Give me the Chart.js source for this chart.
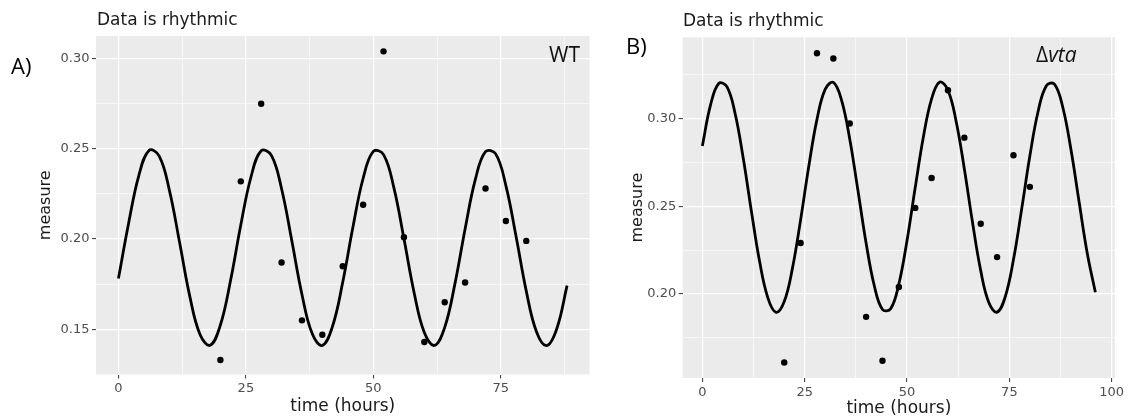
<!DOCTYPE html>
<html>
<head>
<meta charset="utf-8">
<script src="https://cdn.jsdelivr.net/npm/chart.js@4"></script>
<style>
  html, body { margin: 0; padding: 0; background: #fff; }
  #wrap { position: relative; width: 1128px; height: 419px; overflow: hidden; font-family: "DejaVu Sans", sans-serif; }
  canvas { position: absolute; top: 0; }
  .lbl { position: absolute; white-space: nowrap; }
  .title { font-size: 17px; line-height: 20px; color: #1a1a1a; }
  .panel { font-family: "Open Sans", sans-serif; font-size: 22px; line-height: 26px; color: #000; }
  .tag { font-family: "Open Sans", sans-serif; font-size: 21px; line-height: 24px; color: #111; }
</style>
</head>
<body>
<div id="wrap">
  <canvas id="chartA" width="600" height="419" style="left:0px"></canvas>
  <canvas id="chartB" width="528" height="419" style="left:600px"></canvas>

  <div class="lbl title" style="left:97px;top:9px">Data is rhythmic</div>
  <div class="lbl title" style="left:683px;top:10px">Data is rhythmic</div>
  <div class="lbl panel" style="left:11px;top:52px">A)</div>
  <div class="lbl panel" style="left:626px;top:32px">B)</div>
  <div class="lbl tag" style="left:549px;top:42px">WT</div>
  <div class="lbl tag" style="left:1036px;top:42px">Δ<i>vta</i></div>
</div>

<script>
// ---- A) WT ----
const hoursA = [20, 24, 28, 32, 36, 40, 44, 48, 52, 56, 60, 64, 68, 72, 76, 80];
const measureA = [0.133, 0.232, 0.275, 0.187, 0.155, 0.147, 0.185, 0.219, 0.304, 0.201, 0.143, 0.165, 0.176, 0.228, 0.210, 0.199];
// fitted curve, every 2 hours
const fitHoursA = [0, 2, 4, 6, 8, 10, 12, 14, 16, 18, 20, 22, 24, 26, 28, 30, 32, 34, 36, 38, 40, 42, 44,
  46, 48, 50, 52, 54, 56, 58, 60, 62, 64, 66, 68, 70, 72, 74, 76, 78, 80, 82, 84, 86, 88];
const fitA = [0.1782, 0.2088, 0.2352, 0.2491, 0.2460, 0.2270, 0.1981, 0.1683, 0.1472, 0.1412, 0.1524, 0.1772,
  0.2078, 0.2344, 0.2489, 0.2464, 0.2279, 0.1992, 0.1693, 0.1477, 0.1411, 0.1517, 0.1762, 0.2067,
  0.2337, 0.2486, 0.2468, 0.2288, 0.2003, 0.1703, 0.1482, 0.1411, 0.1511, 0.1752, 0.2056, 0.2329,
  0.2484, 0.2472, 0.2296, 0.2014, 0.1712, 0.1487, 0.1410, 0.1505, 0.1742];
const xTicksA = [0, 25, 50, 75];
const xMinorA = [12.5, 37.5, 62.5, 87.5];
const yTicksA = [0.15, 0.20, 0.25, 0.30];
const yMinorA = [0.175, 0.225, 0.275];

// ---- B) delta vta ----
const hoursB = [20, 24, 28, 32, 36, 40, 44, 48, 52, 56, 60, 64, 68, 72, 76, 80];
const measureB = [0.161, 0.229, 0.337, 0.334, 0.297, 0.187, 0.162, 0.204, 0.249, 0.266, 0.316, 0.289, 0.240, 0.221, 0.279, 0.261];
const fitHoursB = [0, 2, 4, 6, 8, 10, 12, 14, 16, 18, 20, 22, 24, 26, 28, 30, 32, 34, 36, 38, 40, 42, 44, 46, 48,
  50, 52, 54, 56, 58, 60, 62, 64, 66, 68, 70, 72, 74, 76, 78, 80, 82, 84, 86, 88, 90, 92, 94, 96];
const fitB = [0.2842, 0.3076, 0.3198, 0.3180, 0.3027, 0.2771, 0.2468, 0.2183, 0.1978, 0.1896, 0.1957, 0.2146,
  0.2422, 0.2727, 0.2994, 0.3165, 0.3204, 0.3103, 0.2882, 0.2590, 0.2290, 0.2047, 0.1912, 0.1916,
  0.2057, 0.2305, 0.2606, 0.2895, 0.3111, 0.3206, 0.3160, 0.2982, 0.2712, 0.2407, 0.2133, 0.1950,
  0.1897, 0.1985, 0.2196, 0.2483, 0.2785, 0.3037, 0.3184, 0.3195, 0.3067, 0.2828, 0.2529, 0.2235, 0.2010];
const xTicksB = [0, 25, 50, 75, 100];
const xMinorB = [12.5, 37.5, 62.5, 87.5];
const yTicksB = [0.20, 0.25, 0.30];
const yMinorB = [0.175, 0.225, 0.275, 0.325];

// grey ggplot panel behind the grid
const panelBg = {
  id: 'panelBg',
  beforeDraw(chart) {
    const { ctx, chartArea: a } = chart;
    ctx.save();
    ctx.fillStyle = '#EBEBEB';
    ctx.fillRect(a.left, a.top, a.right - a.left, a.bottom - a.top);
    ctx.restore();
  }
};

function axis(major, minor, min, max, fmt, size, title, titleSize) {
  const isMajor = v => major.some(m => Math.abs(m - v) < 1e-9);
  return {
    type: 'linear',
    min: min,
    max: max,
    afterBuildTicks: s => {
      s.ticks = major.concat(minor).sort((a, b) => a - b).map(v => ({ value: v }));
    },
    afterFit: s => {
      if (s.isHorizontal()) s.height = size; else s.width = size;
    },
    border: { display: false },
    grid: {
      color: '#FFFFFF',
      lineWidth: c => (c.tick && !isMajor(c.tick.value)) ? 0.6 : 1.2,
      tickLength: 4,
      tickWidth: 1,
      tickColor: c => (c.tick && !isMajor(c.tick.value)) ? 'rgba(0,0,0,0)' : '#333333'
    },
    ticks: {
      autoSkip: false,
      maxRotation: 0,
      padding: 2.5,
      color: '#4D4D4D',
      font: { family: 'DejaVu Sans', size: 13 },
      callback: v => isMajor(v) ? fmt(v) : ''
    },
    title: {
      display: true,
      text: title,
      color: '#1a1a1a',
      font: { family: 'DejaVu Sans', size: titleSize },
      padding: 0
    }
  };
}

function makeChart(id, p) {
  new Chart(document.getElementById(id), {
    type: 'scatter',
    data: {
      datasets: [{
        data: p.hours.map((h, i) => ({ x: h, y: p.measure[i] })),
        pointRadius: 3.2,
        pointBackgroundColor: '#000',
        pointBorderWidth: 0,
        showLine: false
      }, {
        type: 'line',
        data: p.fitHours.map((h, i) => ({ x: h, y: p.fit[i] })),
        borderColor: '#000',
        borderWidth: 2.8,
        pointRadius: 0,
        tension: 0.4,
        fill: false
      }]
    },
    options: {
      responsive: false,
      animation: false,
      events: [],
      layout: { padding: p.pad },
      scales: {
        x: axis(p.xTicks, p.xMinor, p.xMin, p.xMax, v => String(v), p.xH, 'time (hours)', 17),
        y: axis(p.yTicks, p.yMinor, p.yMin, p.yMax, v => v.toFixed(2), p.yW, 'measure', 16)
      },
      plugins: { legend: { display: false }, tooltip: { enabled: false } }
    },
    plugins: [panelBg]
  });
}

makeChart('chartA', {
  hours: hoursA, measure: measureA, fitHours: fitHoursA, fit: fitA,
  xTicks: xTicksA, xMinor: xMinorA, yTicks: yTicksA, yMinor: yMinorA,
  xMin: -4.4, xMax: 92.4, yMin: 0.125, yMax: 0.3125,
  pad: { left: 35.9, right: 10.5, top: 36, bottom: 2.2 }, yW: 60.1, xH: 42.3
});

makeChart('chartB', {
  hours: hoursB, measure: measureB, fitHours: fitHoursB, fit: fitB,
  xTicks: xTicksB, xMinor: xMinorB, yTicks: yTicksB, yMinor: yMinorB,
  xMin: -4.8, xMax: 100.8, yMin: 0.1522, yMax: 0.3461,
  pad: { left: 28.4, right: 13, top: 37.3, bottom: 0 }, yW: 54.3, xH: 41
});
</script>
</body>
</html>
